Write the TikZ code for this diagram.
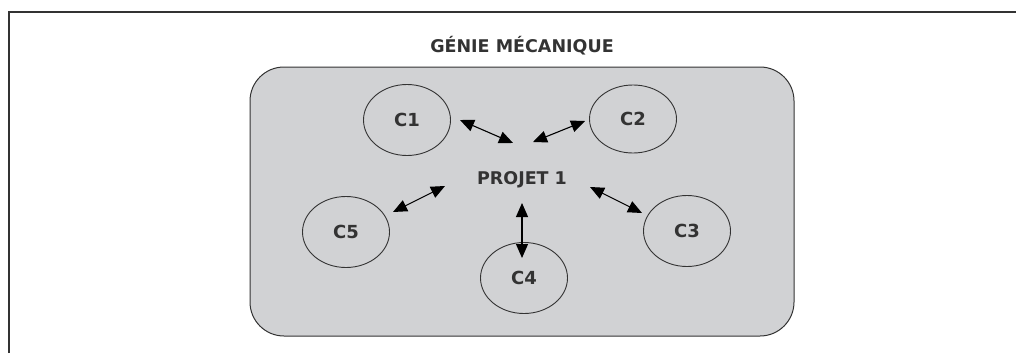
\documentclass[tikz,border=0pt]{standalone}
\usepackage{fontspec}
\setmainfont{DejaVu Sans}
\usetikzlibrary{arrows.meta,shapes.geometric}
\definecolor{panel}{HTML}{D1D2D4}
\definecolor{ink}{HTML}{333333}
\tikzset{
  comp/.style={draw=ink, line width=0.9pt, ellipse, minimum width=87pt, minimum height=71pt, inner sep=0pt, font=\bfseries\fontsize{18}{21}\selectfont, text=ink},
  link/.style={draw=ink, line width=1.1pt, {Triangle[length=14pt,width=12pt]}-{Triangle[length=14pt,width=12pt]}, color=black},
  label/.style={font=\bfseries\fontsize{17.5}{21}\selectfont, text=ink}
}
\begin{document}
\begin{tikzpicture}[x=1pt,y=-1pt]
\useasboundingbox (0,0) rectangle (1016,353);
\draw[ink, line width=1.4pt] (9,353) -- (9,12) -- (1016,12);
\node[label] (title) at (522,46) {GÉNIE MÉCANIQUE};
\draw[ink, line width=1pt, fill=panel, rounded corners=34pt] (250,67) rectangle (794,336);
\node[label] (P) at (522,180) {PROJET 1};
\node[comp] (C1) at (407,120) {C1};
\node[comp, minimum height=68pt] (C2) at (633,119) {C2};
\node[comp] (C3) at (687,231) {C3};
\node[comp] (C4) at (524,278) {C4};
\node[comp] (C5) at (346,232) {C5};
\coordinate (a1) at (460,120); \coordinate (b1) at (513,143);
\coordinate (a2) at (585,121); \coordinate (b2) at (533,142);
\coordinate (a3) at (642,213); \coordinate (b3) at (590,187);
\coordinate (a4) at (522,258); \coordinate (b4) at (522,203);
\coordinate (a5) at (393,212); \coordinate (b5) at (445,186);
\draw[link] (a1) -- (b1);
\draw[link] (a2) -- (b2);
\draw[link] (a3) -- (b3);
\draw[link] (a4) -- (b4);
\draw[link] (a5) -- (b5);
\end{tikzpicture}
\end{document}
